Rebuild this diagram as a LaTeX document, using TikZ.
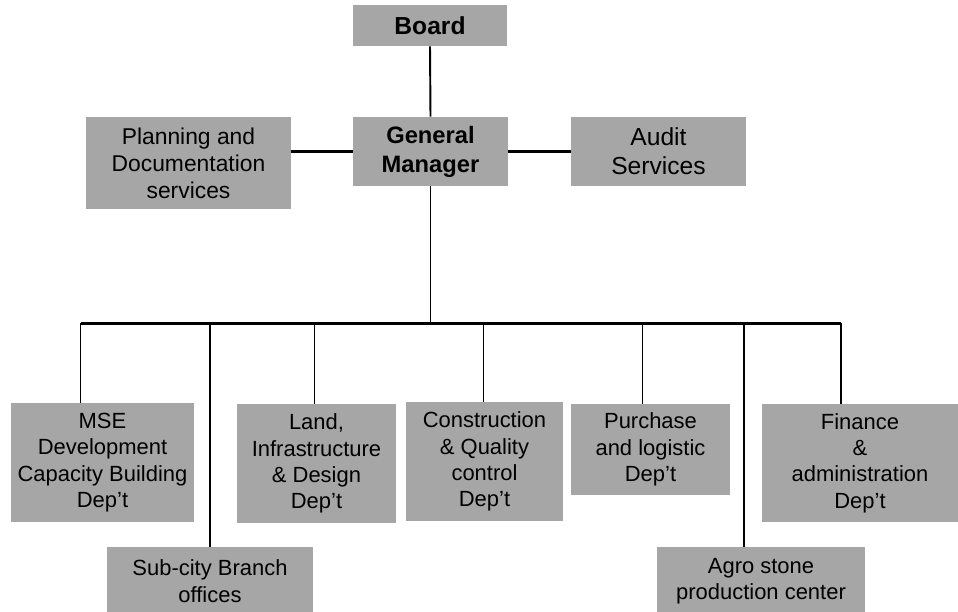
\documentclass[tikz,border=0pt]{standalone}
\usepackage{fontspec}
\setmainfont{Liberation Sans}
\usetikzlibrary{calc}
\definecolor{boxgray}{RGB}{166,166,166}
\tikzset{
  unit/.style 2 args={fill=boxgray, draw=none, align=center, inner sep=0pt,
    minimum width=#1*0.2mm, minimum height=#2*0.2mm},
  small/.style={font=\fontsize{12.5}{15}\selectfont},
  big/.style={font=\fontsize{14}{16.5}\selectfont},
  link/.style={line width=1.1pt},
  thicklink/.style={line width=1.6pt}
}

\begin{document}
\begin{tikzpicture}[x=0.2mm,y=-0.2mm]
	%%%%% FRAME %%%%%
	\useasboundingbox (0,0) rectangle (958,611);
	
	%%%%% TOP %%%%%
	\node[unit={154}{41}, font=\fontsize{14}{16.5}\selectfont\bfseries] (board) at (430,25.5) {Board};
	\node[unit={155}{69}, font=\fontsize{13.5}{16.5}\selectfont\bfseries] (gm) at (430.5,151.5) {General\\Manager};
	\node[unit={205}{92}, font=\fontsize{13}{15.3}\selectfont] (plan) at (188.5,163) {Planning and\\Documentation\\services};
	\node[unit={175}{69}, big] (audit) at (658.5,151.5) {Audit\\Services};
	
	%%%%% DEPARTMENTS %%%%%
	\node[unit={183}{119}, small] (mse) at (102.5,462.5) {MSE\\Development\\Capacity Building\\Dep't};
	\node[unit={206}{68}, small] (sub) at (210,581) {Sub-city Branch\\offices};
	\node[unit={159}{119}, small] (land) at (316.5,463.5) {Land,\\Infrastructure\\\& Design\\Dep't};
	\node[unit={157}{119}, small] (cons) at (484.5,461.5) {Construction\\\& Quality\\control\\Dep't};
	\node[unit={159}{91}, small] (purch) at (650.5,449.5) {Purchase\\and logistic\\Dep't};
	\node[unit={208}{68}, small] (agro) at (761,581) {Agro stone\\production center};
	\node[unit={196}{118}, small] (fin) at (860,463) {Finance\\\&\\administration\\Dep't};
	
	%%%%% LINKS %%%%%
	\draw[link] (board.south) -- (gm.north);
	\draw[thicklink] (plan.east |- gm.west) -- (gm.west);
	\draw[thicklink] (gm.east) -- (audit.west);
	\draw[link] (gm.south) -- ++(0,137) coordinate (bus);
	
	\foreach \n/\dx in {mse/-22, sub/0, land/-2, cons/-1, purch/-8, agro/-17, fin/-19}{
		\coordinate (\n-t) at ($(\n.north)+(\dx,0)$);
		\draw[link] (\n-t) -- (\n-t |- bus);
	}
	\draw[thicklink] (mse-t |- bus) -- (fin-t |- bus);
\end{tikzpicture}
\end{document}
